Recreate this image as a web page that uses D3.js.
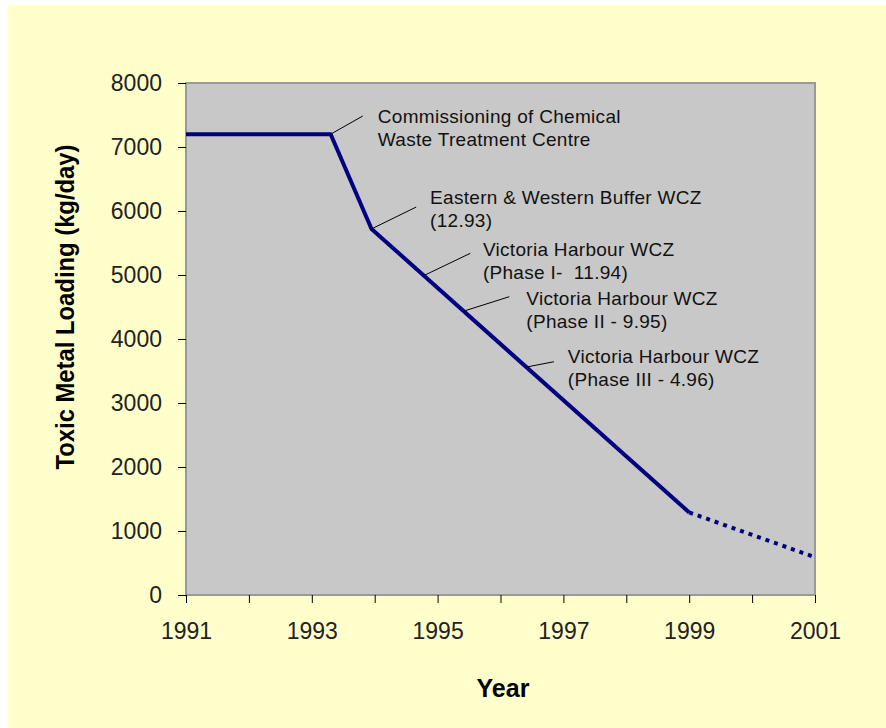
<!DOCTYPE html>
<html>
<head>
<meta charset="utf-8">
<script src="https://cdn.jsdelivr.net/npm/d3@7"></script>
<style>
  html, body { margin: 0; padding: 0; background: #fff; }
  svg { display: block; }
  .note { white-space: pre; }
</style>
</head>
<body>
<svg id="chart" width="886" height="728"></svg>
<script>
// measured loading, kg/day
var years = [1991, 1993.3, 1993.95, 1999];
var loading = [7200, 7200, 5720, 1290];
// projection (dotted)
var projYears = [1999, 2001];
var projLoading = [1290, 590];

var yearTicks = [1991, 1992, 1993, 1994, 1995, 1996, 1997, 1998, 1999, 2000, 2001];
var yearLabels = [1991, 1993, 1995, 1997, 1999, 2001];
var loadingTicks = [0, 1000, 2000, 3000, 4000, 5000, 6000, 7000, 8000];

// annotations: text, point on the line, end of leader, text start (data units)
var noteText = [
    ["Commissioning of Chemical", "Waste Treatment Centre"],
    ["Eastern & Western Buffer WCZ", "(12.93)"],
    ["Victoria Harbour WCZ", "(Phase I-  11.94)"],
    ["Victoria Harbour WCZ", "(Phase II - 9.95)"],
    ["Victoria Harbour WCZ", "(Phase III - 4.96)"]
];
var noteAt = [[1993.3, 7200], [1993.95, 5720], [1994.8, 5000], [1995.42, 4437], [1996.44, 3567]];
var noteTip = [[1993.81, 7484], [1994.66, 6062], [1995.52, 5339], [1996.14, 4661], [1996.85, 3645]];
var noteLabel = [[1994.05, 7375], [1994.88, 6109], [1995.72, 5297], [1996.41, 4531], [1997.07, 3620]];

var font = "'Liberation Sans', Arial, sans-serif";
var svg = d3.select("#chart");

// chart background
svg.append("rect").attr("x", 8).attr("y", 5).attr("width", 878).attr("height", 723).attr("fill", "#ffffcc");

var x = d3.scaleLinear().domain([1991, 2001]).range([186, 815]);
var y = d3.scaleLinear().domain([0, 8000]).range([595, 83]);

// plot area
svg.append("rect")
    .attr("x", x(1991)).attr("y", y(8000))
    .attr("width", x(2001) - x(1991)).attr("height", y(0) - y(8000))
    .attr("fill", "#c8c8c8").attr("stroke", "#9a9a9a").attr("stroke-width", 2);

// y axis
var yAxis = svg.append("g").attr("transform", "translate(" + x(1991) + ",0)")
    .call(d3.axisLeft(y).tickValues(loadingTicks).tickSize(8).tickPadding(16).tickFormat(d3.format("d")));
yAxis.select(".domain").remove();
yAxis.selectAll("line").attr("stroke", "#000");
yAxis.selectAll("text").attr("font-family", font).attr("font-size", 23).attr("fill", "#222");

// x axis
var xAxis = svg.append("g").attr("transform", "translate(0," + y(0) + ")")
    .call(d3.axisBottom(x).tickValues(yearTicks).tickSize(8).tickPadding(20)
        .tickFormat(function (d) { return yearLabels.indexOf(d) >= 0 ? d : ""; }));
xAxis.select(".domain").remove();
xAxis.selectAll("line").attr("stroke", "#000");
xAxis.selectAll("text").attr("font-family", font).attr("font-size", 23).attr("fill", "#222");

// series
var line = d3.line().x(function (d) { return x(d[0]); }).y(function (d) { return y(d[1]); });
svg.append("path")
    .datum(d3.zip(years, loading))
    .attr("d", line).attr("fill", "none")
    .attr("stroke", "#000080").attr("stroke-width", 4).attr("stroke-linejoin", "round");
svg.append("path")
    .datum(d3.zip(projYears, projLoading))
    .attr("d", line).attr("fill", "none")
    .attr("stroke", "#000080").attr("stroke-width", 4).attr("stroke-dasharray", "4,5");

// annotations
noteText.forEach(function (lines, i) {
    svg.append("line")
        .attr("x1", x(noteAt[i][0])).attr("y1", y(noteAt[i][1]))
        .attr("x2", x(noteTip[i][0])).attr("y2", y(noteTip[i][1]))
        .attr("stroke", "#000").attr("stroke-width", 1);
    var t = svg.append("text").attr("class", "note")
        .attr("x", x(noteLabel[i][0])).attr("y", y(noteLabel[i][1]))
        .attr("font-family", font).attr("font-size", 19).attr("fill", "#111")
        .attr("letter-spacing", 0.3);
    lines.forEach(function (s, j) {
        t.append("tspan").attr("x", x(noteLabel[i][0])).attr("dy", j ? 22.7 : 0).text(s);
    });
});

// axis titles
svg.append("text")
    .attr("x", 503).attr("y", 697).attr("text-anchor", "middle")
    .attr("font-family", font).attr("font-size", 25).attr("font-weight", "bold")
    .text("Year");
svg.append("text")
    .attr("transform", "translate(74,307) rotate(-90)").attr("text-anchor", "middle")
    .attr("font-family", font).attr("font-size", 25).attr("font-weight", "bold")
    .attr("textLength", 325).attr("lengthAdjust", "spacingAndGlyphs")
    .text("Toxic Metal Loading (kg/day)");
</script>
</body>
</html>
